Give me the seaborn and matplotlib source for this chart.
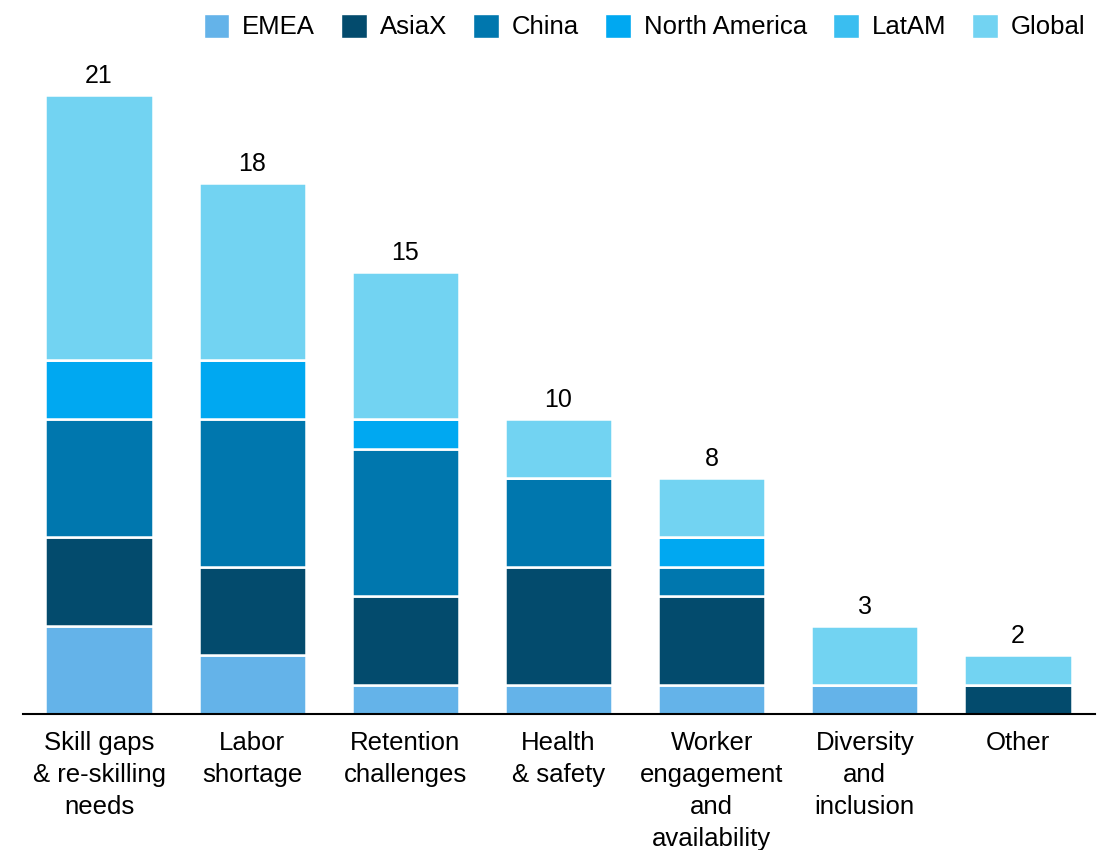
import numpy as np
import pandas as pd
import matplotlib
matplotlib.use("Agg")
import matplotlib.pyplot as plt
import seaborn as sns
from matplotlib.patches import Patch

# Survey counts by workforce challenge, split by region
categories = [
    "Skill gaps\n& re-skilling\nneeds",
    "Labor\nshortage",
    "Retention\nchallenges",
    "Health\n& safety",
    "Worker\nengagement\nand\navailability",
    "Diversity\nand\ninclusion",
    "Other",
]
regions = ["EMEA", "AsiaX", "China", "North America", "LatAM", "Global"]

emea = [3, 2, 1, 1, 1, 1, 0]
asiax = [3, 3, 3, 4, 3, 0, 1]
china = [4, 5, 5, 3, 1, 0, 0]
north_america = [2, 2, 1, 0, 1, 0, 0]
latam = [0, 0, 0, 0, 0, 0, 0]
global_ = [9, 6, 5, 2, 2, 2, 1]

colors = ["#64B3E9", "#034B6D", "#0077AE", "#00A8F1", "#3ABEF0", "#72D3F2"]

series = [emea, asiax, china, north_america, latam, global_]

sns.set_theme(style="white")
plt.rcParams["font.family"] = ["Liberation Sans", "DejaVu Sans"]
plt.rcParams["text.color"] = "black"

fig = plt.figure(figsize=(11.1, 8.5), dpi=100)
ax = fig.add_axes([22.5 / 1110, 136 / 850, 1072 / 1110, 619 / 850])

bottom = np.zeros(len(categories))
for name, vals, col in zip(regions, series, colors):
    df = pd.DataFrame({"cat": categories, "val": vals})
    sns.barplot(data=df, x="cat", y="val", color=col, width=0.7,
                bottom=bottom.copy(), edgecolor="white", linewidth=1.8,
                ax=ax, saturation=1, zorder=2)
    bottom += np.array(vals, dtype=float)

totals = bottom
for i, t in enumerate(totals):
    ax.annotate(f"{int(t)}", xy=(i, t), xytext=(0, 5), textcoords="offset points",
                ha="center", va="bottom", fontsize=18, color="black",
                annotation_clip=False)

ax.set_xlim(-0.5, len(categories) - 0.5)
ax.set_ylim(0, 21)
ax.set_xlabel("")
ax.set_ylabel("")
ax.set_yticks([])
for s in ["top", "right", "left"]:
    ax.spines[s].set_visible(False)
ax.spines["bottom"].set_color("black")
ax.spines["bottom"].set_linewidth(1.5)
ax.spines["bottom"].set_zorder(5)
ax.tick_params(axis="x", length=0, pad=12, labelsize=18.5, labelcolor="black")
for lab in ax.get_xticklabels():
    lab.set_linespacing(1.42)

handles = [Patch(facecolor=c, edgecolor="white", label=r) for r, c in zip(regions, colors)]
fig.legend(handles=handles, loc="upper right", bbox_to_anchor=(0.9965, 1.008),
           ncol=6, frameon=False, fontsize=18.5, handlelength=1.0, handleheight=1.05,
           handletextpad=0.5, columnspacing=1.02, borderaxespad=0.4,
           labelcolor="black")

fig.savefig("out.png", dpi=100, facecolor="white")
